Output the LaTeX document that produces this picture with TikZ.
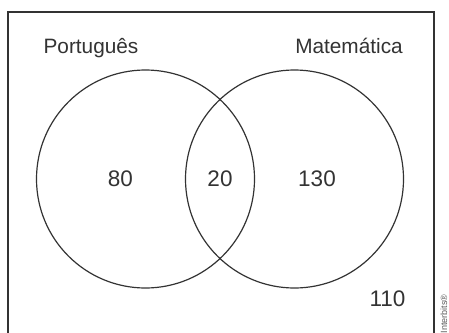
\documentclass[tikz,border=0pt]{standalone}
\usepackage{fontspec}
\setmainfont{Liberation Sans}
\definecolor{ink}{HTML}{333333}
\begin{document}
\begin{tikzpicture}[x=1pt,y=-1pt,
  setcircle/.style={draw=ink,line width=1.2pt,circle,minimum size=218pt,inner sep=0pt,outer sep=0pt},
  lbl/.style={text=ink,font=\fontsize{20.8}{24}\selectfont,inner sep=0pt},
  num/.style={text=ink,font=\fontsize{22.5}{26}\selectfont,inner sep=0pt}]
\useasboundingbox (0,0) rectangle (449,332);
\fill[white] (0,0) rectangle (449,332);
\draw[ink,line width=1.4pt] (8,340) -- (8,12) -- (434,12) -- (434,340);
\node[setcircle] (P) at (145.5,179) {};
\node[setcircle] (M) at (294.5,179) {};
\node[lbl,anchor=base] (lp) at (91,53) {Português};
\node[lbl,anchor=base] (lm) at (349,53) {Matemática};
\node[num] (n80) at (120.5,178.5) {80};
\node[num] (n20) at (220,178.5) {20};
\node[num] (n130) at (317,178.5) {130};
\node[num] (n110) at (387.5,298.5) {110};
\node[text=ink!80,font=\fontsize{9}{11}\selectfont,rotate=90,anchor=west,inner sep=0pt] (cr) at (444,333.5) {Interbits®};
\end{tikzpicture}
\end{document}
